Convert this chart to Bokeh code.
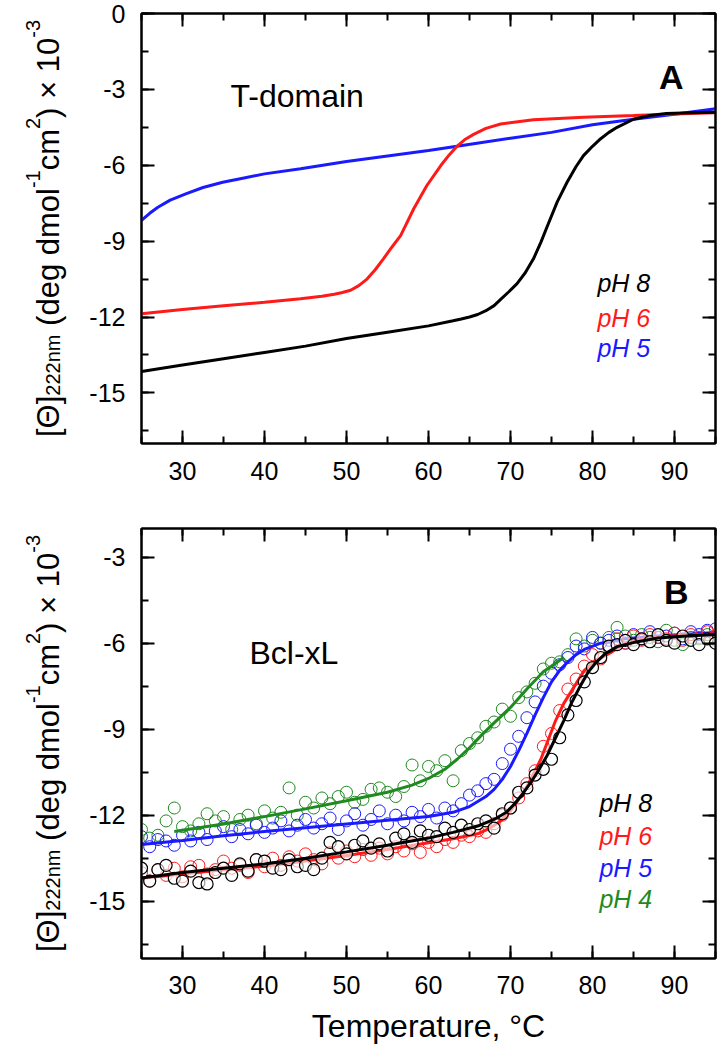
import math
from bokeh.plotting import figure
from bokeh.models import Range1d, LinearAxis, SingleIntervalTicker, Label
from bokeh.layouts import column, row
from bokeh.core.properties import value
from bokeh.embed import file_html
from bokeh.resources import INLINE

FONT = "Liberation Sans"

# ---------------- Panel A: T-domain (fitted curves) ----------------
a_ph8_t = [25, 30, 35, 40, 45, 50, 55, 60, 63, 64, 65, 66, 67, 68, 68.8, 69.8, 70.8, 71.8, 72.8, 73.7, 74.5,
           75.7, 76.9, 78, 78.9, 80, 81, 82, 83, 85, 87, 89, 92, 95]
a_ph8_v = [-14.15, -13.9, -13.65, -13.4, -13.15, -12.85, -12.6, -12.35, -12.15, -12.08, -12.0, -11.9, -11.75,
           -11.55, -11.3, -11.0, -10.68, -10.25, -9.7, -9.05, -8.4, -7.45, -6.67, -6.05, -5.62, -5.25, -4.95,
           -4.7, -4.5, -4.18, -4.03, -3.95, -3.92, -3.9]
a_ph6_t = [25, 30, 35, 40, 44.4, 47, 48.5, 49.5, 50.5, 51.5, 52.5, 53.5, 54.5, 55.5, 56.6, 58.2, 59.8, 61.5,
           62.5, 63.5, 64.5, 65.5, 67, 68.8, 72.8, 78.9, 85, 90, 95]
a_ph6_v = [-11.87, -11.7, -11.55, -11.42, -11.28, -11.18, -11.1, -11.03, -10.94, -10.76, -10.5, -10.13, -9.7,
           -9.25, -8.78, -7.72, -6.8, -6.01, -5.6, -5.24, -4.97, -4.78, -4.54, -4.37, -4.2, -4.1, -4.03,
           -3.97, -3.92]
a_ph5_t = [25, 26, 27, 28.5, 30.4, 32.5, 34.9, 37.5, 40, 44.4, 50, 55, 60, 64.7, 70, 75, 80, 85, 90, 95]
a_ph5_v = [-8.18, -7.9, -7.66, -7.38, -7.13, -6.88, -6.67, -6.5, -6.34, -6.14, -5.85, -5.63, -5.42, -5.19,
           -4.93, -4.7, -4.4, -4.18, -3.98, -3.77]

# ---------------- Panel B: Bcl-xL (data points + fits) ----------------
b_temps = list(range(25, 96))
b_ph8_pts = [-13.85, -14.3, -13.9, -13.75, -14.2, -14.3, -13.95, -14.35, -14.4, -14.0, -13.85, -14.1, -13.7,
             -13.95, -13.55, -13.6, -13.85, -13.9, -13.55, -13.8, -13.75, -13.9, -13.5, -12.95, -13.1, -13.35,
             -13.05, -12.9, -13.15, -13.0, -13.25, -12.8, -12.65, -12.95, -12.55, -12.7, -12.75, -12.45, -12.6,
             -12.35, -12.5, -12.3, -12.2, -12.45, -11.95, -11.75, -11.2, -11.05, -10.6, -10.4, -10.05, -9.3,
             -8.5, -8.0, -7.35, -6.85, -6.5, -6.1, -6.05, -5.9, -6.05, -5.85, -5.95, -5.7, -5.9, -6.0, -5.75,
             -5.9, -6.05, -5.85, -6.0]
b_ph6_pts = [-14.0, -14.3, -13.9, -14.1, -13.85, -14.15, -13.8, -13.75, -14.05, -13.9, -13.6, -13.85, -13.75,
             -14.0, -13.55, -13.8, -13.5, -13.75, -13.45, -13.6, -13.35, -13.55, -13.7, -13.3, -13.5, -13.25,
             -13.45, -13.2, -13.4, -13.15, -13.35, -13.1, -13.25, -13.0, -13.3, -12.95, -13.1, -12.85, -12.95,
             -12.7, -12.75, -12.55, -12.6, -12.3, -12.0, -11.75, -11.4, -10.9, -10.45, -9.6, -9.15, -8.35,
             -7.6, -7.25, -6.8, -6.4, -6.55, -6.15, -5.85, -6.0, -5.75, -5.9, -5.7, -5.8, -5.85, -5.65, -5.9,
             -5.7, -5.8, -5.6, -5.75]
b_ph5_pts = [-12.75, -13.1, -12.85, -12.9, -13.05, -12.7, -12.9, -12.6, -12.85, -12.55, -12.4, -12.75, -12.5,
             -12.65, -12.35, -12.6, -12.45, -12.2, -12.55, -12.35, -12.15, -12.45, -12.3, -12.1, -12.5, -12.2,
             -11.95, -12.35, -12.15, -11.85, -12.3, -12.0, -12.2, -11.9, -12.05, -11.8, -12.1, -11.75, -11.85,
             -11.6, -11.3, -11.15, -10.9, -10.75, -10.2, -9.7, -9.25, -8.6, -8.05, -7.5, -7.05, -6.75, -6.5,
             -6.1, -6.2, -5.8, -6.0, -5.9, -5.75, -6.0, -5.7, -5.85, -5.6, -5.8, -5.75, -5.65, -5.85, -5.6,
             -5.7, -5.55, -5.5]
b_ph4_pts = [-12.5, -12.8, -12.7, -12.2, -11.75, -12.4, -12.55, -12.3, -11.95, -12.2, -12.05, -12.5, -12.15,
             -12.0, -12.3, -11.85, -12.1, -11.9, -11.05, -12.0, -11.55, -11.75, -11.4, -11.6, -11.35, -11.2,
             -11.55, -11.45, -11.1, -11.05, -11.2, -11.35, -11.0, -10.25, -10.8, -10.3, -10.45, -10.1, -10.8,
             -9.75, -9.5, -9.3, -8.9, -8.75, -8.3, -8.55, -7.9, -7.7, -7.4, -6.9, -6.7, -6.65, -6.4, -5.85,
             -6.1, -5.9, -6.0, -5.8, -5.45, -5.75, -5.9, -5.7, -5.8, -5.95, -5.55, -5.9, -6.05, -5.8, -5.85,
             -5.7, -5.9]

b_ph8_fit_t = [25, 30, 35, 40, 45, 50, 55, 60, 63, 66, 68, 69.5, 70.5, 71.5, 72.5, 73.5, 74.5, 75.5, 76.5,
               77.5, 78.5, 79.5, 80.5, 81.5, 83, 85, 88, 91, 95]
b_ph8_fit_v = [-14.19, -14.0, -13.85, -13.7, -13.5, -13.28, -13.05, -12.8, -12.6, -12.38, -12.15, -11.9, -11.6,
               -11.25, -10.85, -10.4, -9.9, -9.3, -8.7, -8.05, -7.5, -7.0, -6.65, -6.38, -6.12, -5.98, -5.82,
               -5.76, -5.7]
b_ph6_fit_t = [25, 30, 35, 40, 45, 50, 55, 60, 63, 66, 67.5, 68.8, 70, 71, 72, 73, 73.7, 74.5, 75.5, 76.5,
               77.7, 79, 80.5, 82.2, 84, 87, 91, 95]
b_ph6_fit_v = [-14.2, -14.05, -13.9, -13.78, -13.6, -13.41, -13.2, -12.96, -12.82, -12.65, -12.45, -12.2,
               -11.85, -11.45, -11.0, -10.45, -10.05, -9.45, -8.7, -8.1, -7.55, -6.95, -6.6, -6.33, -6.0, -5.8,
               -5.72, -5.68]
b_ph5_fit_t = [25, 30, 35, 40, 45, 50, 55, 60, 63, 65, 67, 68, 69, 70, 71, 72, 73, 74, 75, 76, 77, 78, 79,
               81, 84, 88, 95]
b_ph5_fit_v = [-13.02, -12.88, -12.72, -12.57, -12.44, -12.31, -12.18, -12.05, -11.9, -11.7, -11.35, -11.1,
               -10.75, -10.3, -9.75, -9.15, -8.5, -7.9, -7.35, -6.95, -6.65, -6.4, -6.22, -6.0, -5.85, -5.75,
               -5.63]
b_ph4_fit_t = [29, 35, 40, 45, 50, 55, 58, 60, 62, 63.5, 65, 66.5, 68, 70, 72, 74, 75.5, 76.5]
b_ph4_fit_v = [-12.57, -12.31, -12.05, -11.78, -11.5, -11.2, -10.95, -10.72, -10.4, -10.05, -9.65, -9.2, -8.78,
               -8.24, -7.6, -7.0, -6.7, -6.5]

legend_a = ["pH 8", "pH 6", "pH 5"]
legend_b = ["pH 8", "pH 6", "pH 5", "pH 4"]
y_tick_values = [-15, -12, -9, -6, -3, 0]

BLACK, RED, BLUE, GREEN = "#000000", "#ff1a1a", "#1a1aff", "#1f8a1f"

# Arial / Liberation Sans advance widths (per 1000 em)
AW = {'[': 278, ']': 278, 'Θ': 778, '2': 556, 'n': 556, 'm': 833, ' ': 278, '(': 333, ')': 333,
      'd': 556, 'e': 556, 'g': 556, 'o': 556, 'l': 222, '-': 333, '1': 556, 'c': 500, '×': 584,
      '0': 556, '3': 556}

TW = 70          # width of the y-title strip
FRAME_H = 430
FRAME_LEFT = 141
TOTAL_W = 720


def tw(s, size):
    return sum(AW.get(ch, 556) for ch in s) / 1000.0 * size


def title_strip(height, top, bottom):
    t = figure(width=TW, height=height, x_range=Range1d(0, TW), y_range=Range1d(0, FRAME_H),
               x_axis_type=None, y_axis_type=None, output_backend="svg", toolbar_location=None,
               min_border_left=0, min_border_right=0, min_border_top=top, min_border_bottom=bottom)
    t.outline_line_color = None
    t.xgrid.visible = False
    t.ygrid.visible = False
    F, S = 31, 20
    pieces = [("[Θ]", "main"), ("222nm", "sub"), (" ", "gap"), ("(deg dmol", "main"), ("-1", "sup"),
              ("cm", "main"), ("2", "sup"), (") × 10", "main"), ("-3", "sup")]
    total = sum(tw(s, F if k in ("main", "gap") else S) for s, k in pieces)
    off = (FRAME_H - total) / 2.0
    xb = {"main": 48, "sub": 52, "sup": 32}
    for s, k in pieces:
        size = F if k in ("main", "gap") else S
        if k != "gap":
            t.text(x=[xb[k]], y=[off], text=[s], angle=math.pi / 2, text_font=value(FONT),
                   text_font_size=value(f"{size}px"), text_color="black",
                   text_align="left", text_baseline="alphabetic")
        off += tw(s, size)
    return t


def make_fig(yr, height, top, bottom, standoff):
    p = figure(width=TOTAL_W - TW, height=height, x_range=Range1d(25, 95), y_range=Range1d(*yr),
               output_backend="svg", toolbar_location=None,
               min_border_left=FRAME_LEFT - TW, min_border_right=5, min_border_top=top,
               min_border_bottom=bottom)
    xb = p.xaxis[0]
    yl = p.yaxis[0]
    p.xgrid.visible = False
    p.ygrid.visible = False
    p.outline_line_color = "black"
    p.outline_line_width = 2
    xb.ticker = SingleIntervalTicker(interval=10, num_minor_ticks=2)
    yl.ticker = SingleIntervalTicker(interval=3, num_minor_ticks=2)
    yl.major_label_overrides = {v: str(v) for v in y_tick_values}
    top_ax = LinearAxis(ticker=SingleIntervalTicker(interval=10, num_minor_ticks=2))
    right_ax = LinearAxis(ticker=SingleIntervalTicker(interval=3, num_minor_ticks=2))
    p.add_layout(top_ax, "above")
    p.add_layout(right_ax, "right")
    for ax in [xb, yl, top_ax, right_ax]:
        ax.axis_line_width = 2
        ax.axis_line_color = "black"
        ax.major_tick_in = 13
        ax.major_tick_out = 0
        ax.minor_tick_in = 7
        ax.minor_tick_out = 0
        ax.major_tick_line_width = 2
        ax.minor_tick_line_width = 2
        ax.major_tick_line_color = "black"
        ax.minor_tick_line_color = "black"
        ax.major_label_text_font = FONT
        ax.major_label_text_font_size = "25px"
        ax.major_label_text_color = "black"
    for ax in [top_ax, right_ax]:
        ax.major_label_text_font_size = "0px"
        ax.major_label_text_color = None
        ax.major_label_standoff = 0
    xb.major_label_standoff = standoff
    yl.major_label_standoff = 16
    return p, xb


def add_text(p, x, y, txt, size, color="black", style="normal", align="left"):
    p.add_layout(Label(x=x, y=y, text=txt, text_font=FONT, text_font_size=size, text_color=color,
                       text_font_style=style, text_align=align, text_baseline="alphabetic"))


# ---------- Panel A ----------
HA, TA, BA = 493, 13, 50
pa, pa_x = make_fig((-17, 0), HA, TA, BA, 18)
pa.line(a_ph5_t, a_ph5_v, line_color=BLUE, line_width=3)
pa.line(a_ph6_t, a_ph6_v, line_color=RED, line_width=3)
pa.line(a_ph8_t, a_ph8_v, line_color=BLACK, line_width=3)
add_text(pa, 35.85, -3.28, "T-domain", "32px")
add_text(pa, 91.1, -2.53, "A", "34px", style="bold", align="right")
for txt, yy, c in zip(legend_a, [-10.67, -12.02, -13.24], [BLACK, RED, BLUE]):
    add_text(pa, 80.6, yy, txt, "25px", color=c, style="italic")
ta = title_strip(HA, TA, BA)

# ---------- Panel B ----------
HB, TB, BB = 557, 35, 92
pb, pb_x = make_fig((-17, -2), HB, TB, BB, 17)
pb.scatter(b_temps, b_ph4_pts, marker="circle", size=12, fill_color=None, line_color=GREEN, line_width=1)
pb.scatter(b_temps, b_ph5_pts, marker="circle", size=12, fill_color=None, line_color=BLUE, line_width=1)
pb.line(b_ph4_fit_t, b_ph4_fit_v, line_color=GREEN, line_width=3)
pb.line(b_ph5_fit_t, b_ph5_fit_v, line_color=BLUE, line_width=3)
pb.scatter(b_temps, b_ph6_pts, marker="circle", size=12, fill_color=None, line_color=RED, line_width=1)
pb.line(b_ph6_fit_t, b_ph6_fit_v, line_color=RED, line_width=3)
pb.scatter(b_temps, b_ph8_pts, marker="circle", size=12, fill_color="white", fill_alpha=0.6,
           line_color=BLACK, line_width=1.2)
pb.line(b_ph8_fit_t, b_ph8_fit_v, line_color=BLACK, line_width=3)
add_text(pb, 38.17, -6.33, "Bcl-xL", "32px")
add_text(pb, 91.7, -4.23, "B", "34px", style="bold", align="right")
for txt, yy, c in zip(legend_b, [-11.59, -12.71, -13.83, -14.91], [BLACK, RED, BLUE, GREEN]):
    add_text(pb, 80.85, yy, txt, "25px", color=c, style="italic")
pb_x.axis_label = "Temperature, °C"
pb_x.axis_label_text_font = FONT
pb_x.axis_label_text_font_size = "32px"
pb_x.axis_label_text_font_style = "normal"
pb_x.axis_label_text_color = "black"
pb_x.axis_label_standoff = 11
tb = title_strip(HB, TB, BB)

layout = column(row(ta, pa, spacing=0), row(tb, pb, spacing=0), spacing=0)
open("out.html", "w").write(file_html(layout, INLINE))
